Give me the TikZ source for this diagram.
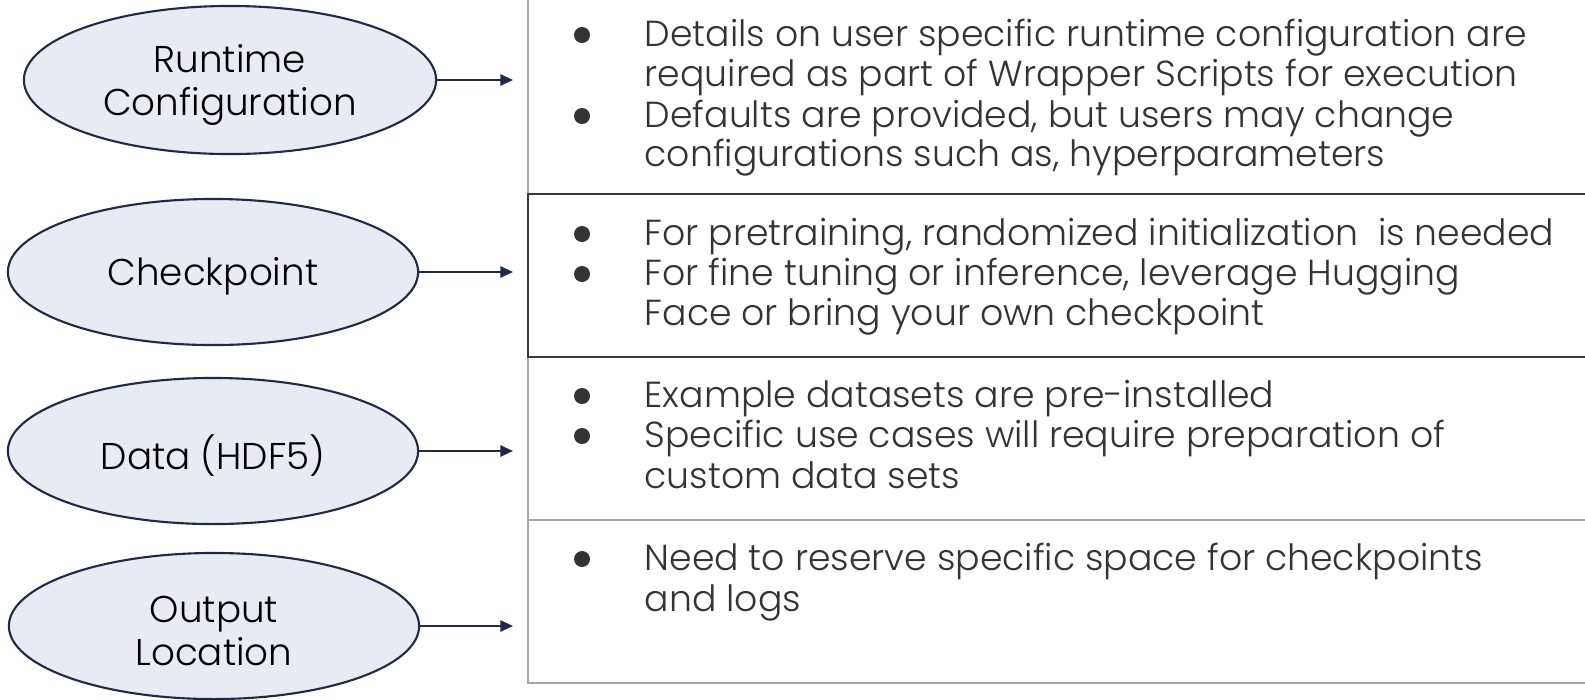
\documentclass[tikz,border=0pt]{standalone}
\usepackage{fontspec}
\setmainfont{Poppins Light}
\usetikzlibrary{shapes.geometric,arrows.meta}
\definecolor{ellfill}{HTML}{E8EBF2}
\definecolor{navy}{HTML}{1F2A44}
\definecolor{txtgray}{HTML}{333333}
\definecolor{linegray}{HTML}{A6A6A6}
\definecolor{linedark}{HTML}{3A3A3A}
\newcommand\lowr[1]{\raisebox{-1.3pt}[\height][\depth]{#1}}
\tikzset{
  ell/.style={ellipse, draw=navy, fill=ellfill, line width=0.6pt, inner sep=0pt,
    minimum width=4.1cm, minimum height=1.46cm, align=center,
    font=\fontsize{10.6pt}{12.2pt}\selectfont, text=black},
  arr/.style={draw=navy, line width=0.6pt, -{Stealth[length=3.6pt,width=3.2pt,inset=0pt]}},
  txt/.style={anchor=base west, inner sep=0pt, text=txtgray, font=\fontsize{10.3pt}{11.5pt}\selectfont},
  bul/.style={fill=txtgray},
  grayline/.style={draw=linegray, line width=0.6pt},
  darkline/.style={draw=linedark, line width=0.8pt}
}
\begin{document}
\begin{tikzpicture}[x=0.01cm,y=-0.01cm]
\useasboundingbox (0,0) rectangle (1585,699);
% ellipses
\node[ell, minimum width=4.12cm, minimum height=1.48cm] (e1) at (230,80) {\lowr{Runtime}\\\lowr{Configuration}};
\node[ell] (e2) at (213,272) {\lowr{Checkpoint}};
\node[ell] (e3) at (213,451) {\lowr{Data (HDF5)}};
\node[ell] (e4) at (214,626) {\lowr{Output}\\\lowr{Location}};
% arrow tips
\coordinate (t1) at (513,80);
\coordinate (t2) at (513,272);
\coordinate (t3) at (513,451);
\coordinate (t4) at (513,626);
\draw[arr] (e1.east) -- (t1);
\draw[arr] (e2.east) -- (t2);
\draw[arr] (e3.east) -- (t3);
\draw[arr] (e4.east) -- (t4);
% table
\draw[grayline] (528,-5) -- (528,194);
\draw[grayline] (528,357) -- (528,683) -- (1595,683);
\draw[grayline] (528,520) -- (1595,520);
\draw[darkline] (1595,194) -- (528,194) -- (528,357) -- (1595,357);
% row 1
\fill[bul] (582,35) circle (8);
\fill[bul] (582,116) circle (8);
\node[txt] (r1a) at (644,46) {Details on user specific runtime configuration are};
\node[txt] (r1b) at (644,86) {required as part of Wrapper Scripts for execution};
\node[txt] (r1c) at (644,127) {Defaults are provided, but users may change};
\node[txt] (r1d) at (644,166) {configurations such as, hyperparameters};
% row 2
\fill[bul] (582,234) circle (8);
\fill[bul] (582,274) circle (8);
\node[txt] (r2a) at (644,245) {For pretraining, randomized initialization\ \ is needed};
\node[txt] (r2b) at (644,285) {For fine tuning or inference, leverage Hugging};
\node[txt] (r2c) at (644,325) {Face or bring your own checkpoint};
% row 3
\fill[bul] (582,396) circle (8);
\fill[bul] (582,436) circle (8);
\node[txt] (r3a) at (644,407) {Example datasets are pre-installed};
\node[txt] (r3b) at (644,447) {Specific use cases will require preparation of};
\node[txt] (r3c) at (644,488) {custom data sets};
% row 4
\fill[bul] (582,559) circle (8);
\node[txt] (r4a) at (644,570) {Need to reserve specific space for checkpoints};
\node[txt] (r4b) at (644,611) {and logs};
\end{tikzpicture}
\end{document}
